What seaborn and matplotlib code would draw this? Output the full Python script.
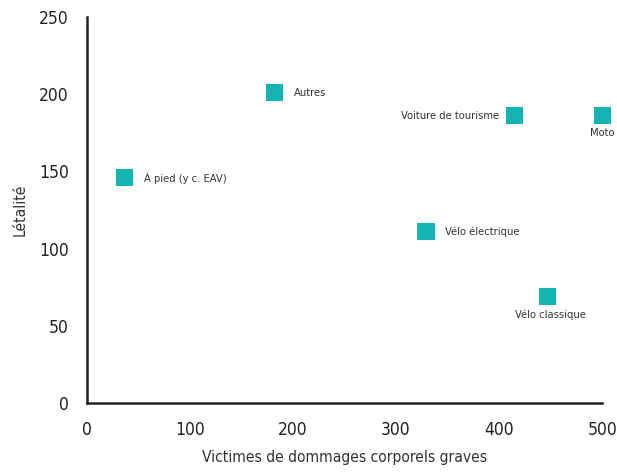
import matplotlib
matplotlib.use("Agg")
import matplotlib.pyplot as plt
import seaborn as sns
import pandas as pd

# données
categories = ["À pied (y c. EAV)", "Autres", "Voiture de tourisme", "Moto",
              "Vélo électrique", "Vélo classique"]
victimes = [36, 182, 415, 500, 329, 447]
letalite = [146, 201, 186, 186, 111, 69]

df = pd.DataFrame({"cat": categories, "x": victimes, "y": letalite})

sns.set_style("white")
plt.rcParams["font.family"] = ["DejaVu Sans"]
plt.rcParams["font.stretch"] = "condensed"

fig = plt.figure(figsize=(6.17, 4.72), dpi=100)
ax = fig.add_axes([0.141, 0.146, 0.835, 0.818])

sns.scatterplot(data=df, x="x", y="y", marker="s", s=150, color="#12b5b0",
                edgecolor="none", ax=ax, clip_on=False, zorder=3)

# position des étiquettes (décalage en points, alignement)
offsets = {
    "À pied (y c. EAV)": ((14, 0), "left", "center"),
    "Autres": ((14, 0), "left", "center"),
    "Voiture de tourisme": ((-11, 0), "right", "center"),
    "Moto": ((0, -9), "center", "top"),
    "Vélo électrique": ((14, 0), "left", "center"),
    "Vélo classique": ((2, -9), "center", "top"),
}
for _, r in df.iterrows():
    off, ha, va = offsets[r["cat"]]
    ax.annotate(r["cat"], (r["x"], r["y"]), xytext=off, textcoords="offset points",
                ha=ha, va=va, fontsize=8, color="#333333")

ax.set_xlim(0, 500)
ax.set_ylim(0, 250)
ax.set_xticks([0, 100, 200, 300, 400, 500])
ax.set_yticks([0, 50, 100, 150, 200, 250])
ax.tick_params(axis="both", labelsize=12.5, length=5, width=1.5, direction="out",
               colors="#222222", pad=8)
for s in ["top", "right"]:
    ax.spines[s].set_visible(False)
for s in ["left", "bottom"]:
    ax.spines[s].set_color("#222222")
    ax.spines[s].set_linewidth(1.8)
ax.set_xlabel("Victimes de dommages corporels graves", fontsize=11.2, color="#333333", labelpad=8)
ax.set_ylabel("Létalité", fontsize=11.2, color="#333333", labelpad=8)

fig.savefig("out.png", dpi=100)
